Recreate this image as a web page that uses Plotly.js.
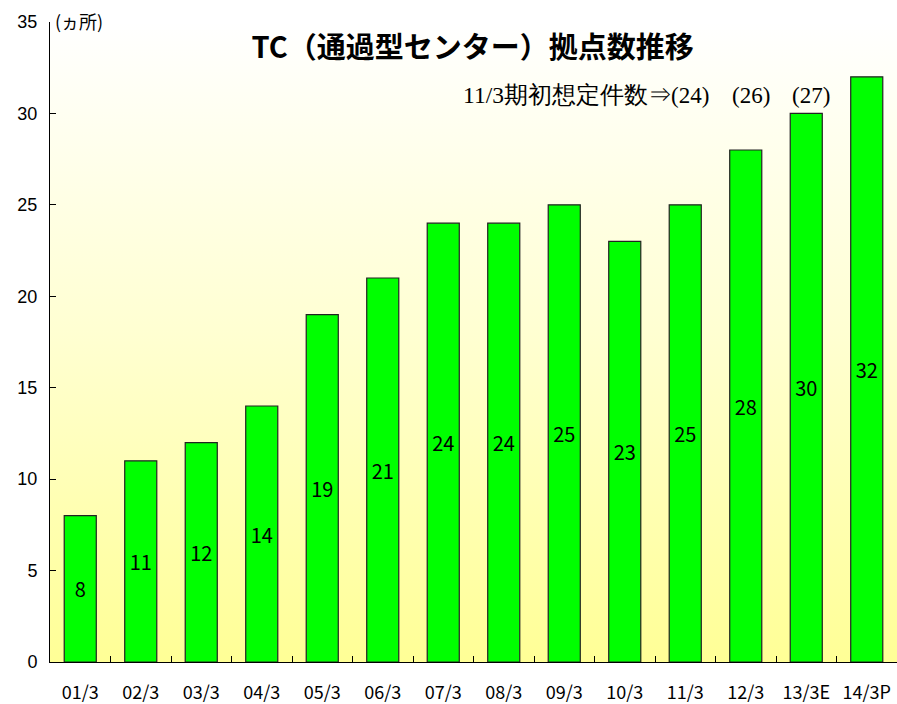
<!DOCTYPE html>
<html>
<head>
<meta charset="utf-8">
<script src="https://cdn.plot.ly/plotly-3.0.1.min.js"></script>
<style>html,body{margin:0;padding:0;background:#fff;}#chart{width:897px;height:704px;}</style>
</head>
<body>
<div id="chart"></div>
<script>
var categories = ["01/3","02/3","03/3","04/3","05/3","06/3","07/3","08/3","09/3","10/3","11/3","12/3","13/3E","14/3P"];
var values = [8,11,12,14,19,21,24,24,25,23,25,28,30,32];
var plannedLabelCats = ["11/3","12/3","13/3E"];
var plannedValues = [24,26,27];
var plannedPrefix = "11/3期初想定件数⇒";
var titleText = "TC（通過型センター）拠点数推移";
var unitText = "(ヵ所)";

var gradSvg = '<svg xmlns="http://www.w3.org/2000/svg" width="100" height="100" preserveAspectRatio="none">' +
  '<defs><linearGradient id="g" x1="0" y1="0" x2="0" y2="1">' +
  '<stop offset="0" stop-color="#ffffff"/><stop offset="0.5" stop-color="#ffffd0"/><stop offset="1" stop-color="#ffff96"/>' +
  '</linearGradient></defs><rect width="100" height="100" fill="url(#g)"/></svg>';
var gradUri = 'data:image/svg+xml;base64,' + btoa(gradSvg);

var trace = {
  type: 'bar',
  x: categories,
  y: values,
  text: values.map(String),
  textposition: 'inside',
  insidetextanchor: 'middle',
  textangle: 0,
  textfont: {family: '"Noto Sans CJK JP", "Liberation Sans", sans-serif', size: 20, color: '#000'},
  marker: {color: '#00ff00', line: {color: '#222222', width: 1.2}},
  width: 0.53,
  hoverinfo: 'skip'
};

var serifFont = '"Liberation Serif", "Times New Roman", serif';
var annotations = [];
plannedLabelCats.forEach(function(c, i){
  annotations.push({
    x: c, y: 31, xref: 'x', yref: 'y', xshift: 5,
    text: '(' + plannedValues[i] + ')', showarrow: false,
    xanchor: 'center', yanchor: 'middle',
    font: {family: serifFont, size: 23, color: '#000'}
  });
});
annotations.push({
  x: plannedLabelCats[0], y: 31, xref: 'x', yref: 'y', xshift: -11,
  text: plannedPrefix, showarrow: false, xanchor: 'right', yanchor: 'middle',
  font: {family: serifFont, size: 23.5, color: '#000'}
});
annotations.push({
  x: 0, y: 1, xref: 'paper', yref: 'paper', xanchor: 'left', yanchor: 'middle',
  xshift: 3, yshift: 1,
  text: unitText, showarrow: false,
  font: {family: '"Noto Sans CJK JP", sans-serif', size: 18, color: '#000'}
});

var layout = {
  width: 897, height: 704,
  margin: {l: 50, r: 0, t: 22, b: 42},
  paper_bgcolor: '#ffffff',
  plot_bgcolor: 'rgba(0,0,0,0)',
  showlegend: false,
  title: {
    text: '<b>' + titleText + '</b>',
    x: 0.527, xanchor: 'center', y: 0.932, yanchor: 'middle',
    font: {family: '"Noto Sans CJK JP", sans-serif', size: 29, color: '#000'}
  },
  xaxis: {
    type: 'category',
    showline: true, linecolor: '#000', linewidth: 1,
    ticks: 'inside', ticklen: 6, tickcolor: '#000', tickson: 'boundaries',
    showgrid: false, zeroline: false,
    ticklabelstandoff: 14,
    tickfont: {family: '"Noto Sans CJK JP", sans-serif', size: 18, color: '#000'}
  },
  yaxis: {
    range: [0, 35], dtick: 5, tick0: 0,
    showline: true, linecolor: '#000', linewidth: 1,
    ticks: 'inside', ticklen: 6, tickcolor: '#000',
    showgrid: false, zeroline: false,
    ticklabelstandoff: 8,
    tickfont: {family: '"Liberation Sans", Arial, sans-serif', size: 18, color: '#000'}
  },
  images: [{
    source: gradUri, xref: 'paper', yref: 'paper', x: 0, y: 1, sizex: 1, sizey: 1,
    xanchor: 'left', yanchor: 'top', sizing: 'stretch', layer: 'below'
  }],
  annotations: annotations
};

Plotly.newPlot('chart', [trace], layout, {displayModeBar: false, staticPlot: true});
</script>
</body>
</html>
